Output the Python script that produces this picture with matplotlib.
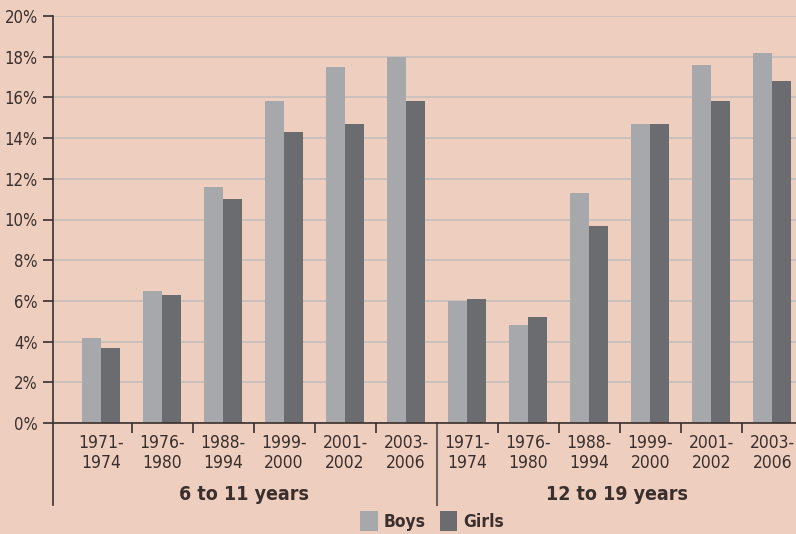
import matplotlib
matplotlib.use("Agg")
import matplotlib.pyplot as plt
from matplotlib.patches import Patch
from matplotlib.lines import Line2D
import numpy as np

plt.rcParams['font.family'] = ['DejaVu Sans']
plt.rcParams['font.stretch'] = 'condensed'

periods = ["1971-\n1974", "1976-\n1980", "1988-\n1994", "1999-\n2000", "2001-\n2002", "2003-\n2006"]
groups = ["6 to 11 years", "12 to 19 years"]
boys_6_11 = [4.2, 6.5, 11.6, 15.8, 17.5, 18.0]
girls_6_11 = [3.7, 6.3, 11.0, 14.3, 14.7, 15.8]
boys_12_19 = [6.0, 4.8, 11.3, 14.7, 17.6, 18.2]
girls_12_19 = [6.1, 5.2, 9.7, 14.7, 15.8, 16.8]
yticks = [0, 2, 4, 6, 8, 10, 12, 14, 16, 18, 20]

bg = "#eecfbf"
boys_c = "#a7a8ab"
girls_c = "#6b6c70"
axis_c = "#3a2f2c"

boys = boys_6_11 + boys_12_19
girls = girls_6_11 + girls_12_19
labels = periods + periods
x = np.arange(len(boys))

fig = plt.figure(figsize=(7.96, 5.34), dpi=100, facecolor=bg)
ax = fig.add_axes([53/796, 111/534, (796-53)/796, 407/534], facecolor=bg)

for y in yticks:
    ax.axhline(y, color="#c8bfbb", lw=1.3, zorder=0)

w = 0.31
ax.bar(x - w/2, boys, width=w, color=boys_c, zorder=2)
ax.bar(x + w/2, girls, width=w, color=girls_c, zorder=2)

ax.set_ylim(0, 20)
ax.set_xlim(-0.787, 11.39)
ax.set_yticks(yticks)
ax.set_yticklabels([f"{v}%" for v in yticks], fontsize=12, color=axis_c)
ax.tick_params(axis='y', length=7, width=1.2, color=axis_c, pad=4)

ax.set_xticks(x)
ax.set_xticklabels(labels, fontsize=12.5, color=axis_c, linespacing=1.1)
ax.tick_params(axis='x', length=0, pad=8)
bounds = [i + 0.5 for i in range(11) if i != 5]
ax.set_xticks(bounds, minor=True)
ax.tick_params(axis='x', which='minor', length=7, width=1.2, color=axis_c)

for s in ["top", "right", "left"]:
    ax.spines[s].set_visible(False)
ax.spines["bottom"].set_color(axis_c)
ax.spines["bottom"].set_linewidth(1.2)

# left axis line extending below
ax.add_line(Line2D([0, 0], [-82/407, 1], transform=ax.transAxes, color=axis_c, lw=1.2, clip_on=False))
# group separator
trans = matplotlib.transforms.blended_transform_factory(ax.transData, ax.transAxes)
ax.add_line(Line2D([5.5, 5.5], [-82/407, 0], transform=trans, color="#6b6060", lw=1.5, clip_on=False))

group_centers = [2.35, 8.45]
for g, cx in zip(groups, group_centers):
    ax.text(cx, -71/407, g, transform=trans, ha="center", va="center",
            fontsize=14, fontweight="bold", color=axis_c)

handles = [Patch(facecolor=boys_c, label="Boys"), Patch(facecolor=girls_c, label="Girls")]
leg = fig.legend(handles=handles, loc="lower center", bbox_to_anchor=(0.543, -0.024), ncol=2,
                 frameon=False, prop={"weight": "bold", "size": 12.5}, handlelength=1.0,
                 handleheight=1.4, handletextpad=0.35, columnspacing=0.8)
for t in leg.get_texts():
    t.set_color(axis_c)

fig.savefig("out.png", dpi=100, facecolor=bg)
